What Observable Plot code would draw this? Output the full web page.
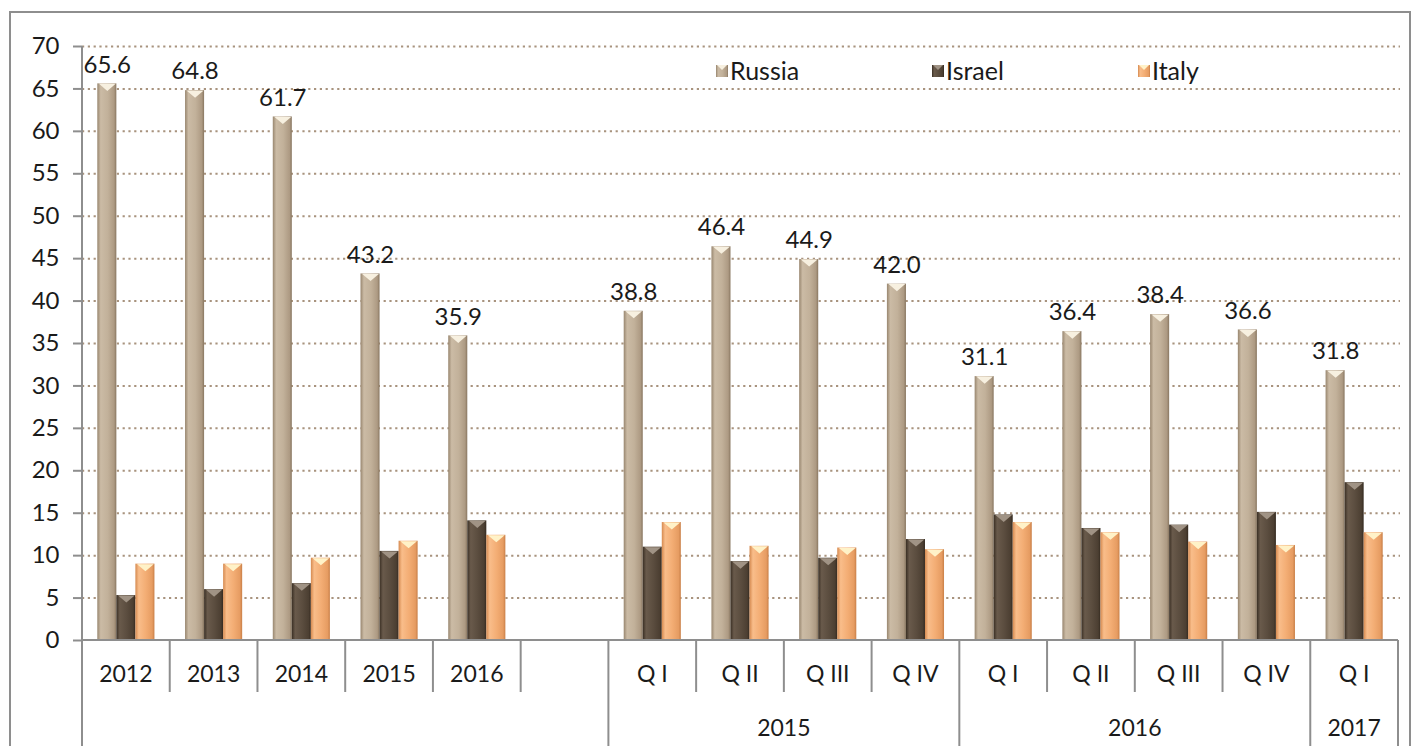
<!DOCTYPE html>
<html>
<head>
<meta charset="utf-8">
<script src="https://cdn.jsdelivr.net/npm/d3@7"></script>
<script src="https://cdn.jsdelivr.net/npm/@observablehq/plot@0.6"></script>
<style>
  html, body { margin: 0; padding: 0; background: #fff; overflow: hidden; }
  #chart { width: 1415px; height: 746px; }
</style>
</head>
<body>
<div id="chart"></div>
<script>
// ---------- data ----------
const groupKeys   = ["y2012","y2013","y2014","y2015","y2016","gap","q15-1","q15-2","q15-3","q15-4","q16-1","q16-2","q16-3","q16-4","q17-1"];
const groupLabels = ["2012","2013","2014","2015","2016","","Q I","Q II","Q III","Q IV","Q I","Q II","Q III","Q IV","Q I"];
const yearLabels  = ["2015","2016","2017"];
const yearStart   = ["q15-1","q16-1","q17-1"];
const yearEnd     = ["q15-4","q16-4","q17-1"];
const seriesNames = ["Russia","Israel","Italy"];
const russia = [65.6,64.8,61.7,43.2,35.9,null,38.8,46.4,44.9,42.0,31.1,36.4,38.4,36.6,31.8];
const israel = [5.3,6.0,6.7,10.5,14.1,null,11.0,9.3,9.7,11.9,14.8,13.2,13.6,15.1,18.6];
const italy  = [9.0,9.0,9.7,11.7,12.4,null,13.9,11.1,10.9,10.7,13.9,12.7,11.6,11.2,12.7];
const yTicks = [0,5,10,15,20,25,30,35,40,45,50,55,60,65,70];

// ---------- layout / style ----------
const W = 1415, H = 746, ML = 82, MR = 17, MT = 46, MB = 106;
const FONT = "Lato, 'Noto Sans', sans-serif";
const bw = (W - ML - MR) / groupKeys.length;
const barW = bw * 0.217;
const inset = (bw - barW) / 2;
const capColors = ["#f7f0e0", "#a09385", "#fff2c8"];
const gradStops = [
  [["0%","#98866f"],["18%","#cbbba5"],["55%","#c2b19a"],["88%","#ad9a83"],["100%","#887660"]],
  [["0%","#3a2f24"],["18%","#695a4b"],["55%","#5b4d3f"],["88%","#4c3f32"],["100%","#342a20"]],
  [["0%","#d58a50"],["18%","#f9bd8a"],["55%","#f3ad74"],["88%","#e69c62"],["100%","#c97f47"]]
];

const allSeries = [russia, israel, italy];
const rows = allSeries.map((vals, i) =>
  groupKeys.map((k, j) => ({key: k, series: seriesNames[i], value: vals[j]}))
           .filter(d => d.value != null));

const capSymbol = {
  draw(ctx, size) {
    const r = Math.sqrt(size / Math.PI);
    ctx.moveTo(-r, 0);
    ctx.lineTo(r, 0);
    ctx.lineTo(0, r * 0.85);
    ctx.closePath();
  }
};

const marks = [
  Plot.ruleY(yTicks.filter(d => d > 0), {stroke: "#a8937e", strokeWidth: 2, strokeDasharray: "2.2,3.6", insetRight: -2}),
  Plot.axisY({ticks: yTicks, tickSize: 9, tickPadding: 14, stroke: "#8e8e8e", strokeWidth: 2,
              fontSize: 24, label: null, tickFormat: d => String(d)})
];
rows.forEach((data, i) => {
  const dx = (i - 1) * barW;
  marks.push(Plot.barY(data, {x: "key", y: "value", fill: `url(#grad${i})`,
                              insetLeft: inset, insetRight: inset, dx}));
  marks.push(Plot.dot(data, {x: "key", y: "value", r: barW / 2 - 1.2, symbol: capSymbol,
                             fill: capColors[i], stroke: "none", dx}));
});
marks.push(Plot.text(rows[0], {x: "key", y: "value", text: d => d.value.toFixed(1),
                               dx: -barW, dy: -19, fontSize: 24, fill: "#1a1a1a"}));

const plot = Plot.plot({
  width: W, height: H,
  marginLeft: ML, marginRight: MR, marginTop: MT, marginBottom: MB,
  style: {fontFamily: FONT, fontSize: "22px", color: "#1a1a1a", background: "transparent", overflow: "visible"},
  x: {domain: groupKeys, padding: 0, round: false, axis: null},
  y: {domain: [0, 70], axis: null},
  marks
});

document.getElementById("chart").appendChild(plot);

// ---------- decorations using the plot's scales ----------
const svg = d3.select(plot);
const defs = svg.insert("defs", ":first-child");
gradStops.forEach((stops, i) => {
  const g = defs.append("linearGradient").attr("id", `grad${i}`)
    .attr("x1", "0").attr("x2", "1").attr("y1", "0").attr("y2", "0");
  stops.forEach(([o, c]) => g.append("stop").attr("offset", o).attr("stop-color", c));
});

const sx = plot.scale("x"), sy = plot.scale("y");
const x0 = sx.apply(groupKeys[0]);
const xEnd = sx.apply(groupKeys[groupKeys.length - 1]) + sx.bandwidth;
const y0 = sy.apply(0), yTop = sy.apply(70);
const deco = svg.append("g").attr("stroke", "#8e8e8e").attr("stroke-width", 2);

// outer frame
deco.append("rect").attr("x", 10).attr("y", 12).attr("width", 1400).attr("height", 800).attr("fill", "none");
// baseline and left axis line
deco.append("line").attr("x1", x0).attr("x2", xEnd).attr("y1", y0).attr("y2", y0);
deco.append("line").attr("x1", x0).attr("x2", x0).attr("y1", yTop).attr("y2", H + 5);
// category dividers
groupKeys.forEach((k, j) => {
  if (j === 0) return;
  const xx = sx.apply(k);
  const long = yearStart.includes(k);
  deco.append("line").attr("x1", xx).attr("x2", xx).attr("y1", y0).attr("y2", long ? H + 5 : y0 + 52);
});
deco.append("line").attr("x1", xEnd).attr("x2", xEnd).attr("y1", y0).attr("y2", H + 5);

const txt = svg.append("g").attr("font-family", FONT).attr("fill", "#1a1a1a").attr("text-anchor", "middle");
groupKeys.forEach((k, j) => {
  txt.append("text").attr("x", sx.apply(k) + sx.bandwidth / 2).attr("y", y0 + 34)
    .attr("dy", "0.36em").attr("font-size", 23).text(groupLabels[j]);
});
yearLabels.forEach((lab, i) => {
  const a = sx.apply(yearStart[i]), b = sx.apply(yearEnd[i]) + sx.bandwidth;
  txt.append("text").attr("x", (a + b) / 2).attr("y", y0 + 88)
    .attr("dy", "0.36em").attr("font-size", 23).text(lab);
});

// legend
const legendX = [716, 932, 1138], legendY = 71;
const leg = svg.append("g").attr("font-family", FONT).attr("font-size", 25)
  .attr("fill", "#1a1a1a").attr("text-anchor", "start");
seriesNames.forEach((name, i) => {
  const g = leg.append("g").attr("transform", `translate(${legendX[i]},${legendY})`);
  g.append("rect").attr("x", 0).attr("y", -6).attr("width", 12).attr("height", 12).attr("fill", `url(#grad${i})`);
  g.append("path").attr("d", "M1,-6L11,-6L6,-1Z").attr("fill", capColors[i]);
  g.append("text").attr("x", 14).attr("dy", "0.36em").text(name);
});
</script>
</body>
</html>
